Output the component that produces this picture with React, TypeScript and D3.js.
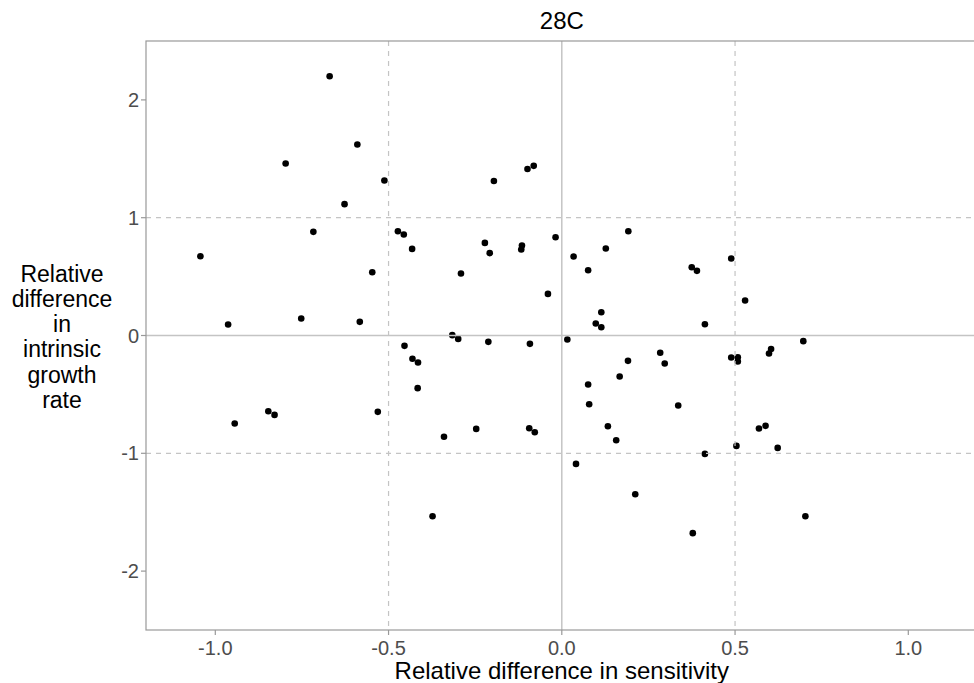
import React from "react";
import * as d3 from "d3";

const title = "28C";
const xLabel = "Relative difference in sensitivity";
const yLabelLines = ["Relative", "difference", "in", "intrinsic", "growth", "rate"];
const xTicks = [-1.0, -0.5, 0.0, 0.5, 1.0];
const yTicks = [-2, -1, 0, 1, 2];
const xDashed = [-0.5, 0.5];
const yDashed = [-1, 1];

const xs = [
  -0.670, -0.590, -0.797, -0.512, -0.627, -0.717, -0.473, -0.456, -0.432, -1.043,
  -0.547, -0.963, -0.752, -0.583, -0.454, -0.081, -0.099, -0.196, -0.222, -0.208,
  -0.115, -0.117, -0.018, -0.291, -0.040, 0.034, 0.076, 0.127, 0.192, 0.375,
  0.390, 0.114, 0.098, 0.114, -0.316, -0.299, -0.212, -0.092, 0.016, 0.489,
  0.529, 0.413, 0.604, 0.697, -0.431, -0.415, -0.416, -0.944, -0.847, -0.829,
  -0.531, 0.284, 0.297, 0.191, 0.167, 0.076, 0.079, 0.336, -0.340, -0.247,
  -0.094, -0.078, 0.133, 0.157, 0.041, 0.212, -0.373, 0.378, 0.489, 0.508,
  0.508, 0.598, 0.588, 0.569, 0.504, 0.623, 0.413, 0.703,
];
const ys = [
  2.201, 1.621, 1.460, 1.316, 1.115, 0.880, 0.885, 0.857, 0.735, 0.673,
  0.537, 0.093, 0.144, 0.116, -0.088, 1.440, 1.414, 1.312, 0.786, 0.699,
  0.764, 0.730, 0.834, 0.526, 0.353, 0.670, 0.554, 0.738, 0.885, 0.580,
  0.549, 0.198, 0.102, 0.070, 0.003, -0.029, -0.054, -0.071, -0.034, 0.654,
  0.297, 0.096, -0.115, -0.048, -0.198, -0.229, -0.447, -0.747, -0.643, -0.674,
  -0.648, -0.147, -0.238, -0.215, -0.348, -0.416, -0.583, -0.594, -0.860, -0.793,
  -0.787, -0.821, -0.770, -0.889, -1.090, -1.347, -1.534, -1.678, -0.187, -0.184,
  -0.221, -0.153, -0.767, -0.790, -0.937, -0.954, -1.005, -1.534,
];

const W = 974;
const H = 683;
const left = 146;
const top = 41;
const bottom = 630;
const right = 977.6;

export default function App() {
  const x = d3.scaleLinear().domain([-1.2, 1.2]).range([left, right]);
  const y = d3.scaleLinear().domain([-2.5, 2.5]).range([bottom, top]);
  const pts = xs.map((v, i) => ({ x: v, y: ys[i] }));
  const font = "'Liberation Sans', Arial, sans-serif";
  const lineGray = "#c4c4c4";
  const yLabelCx = 62;
  const yLabelStart = 281.5;
  const lh = 25.3;
  const cx = (left + right) / 2;
  return (
    <svg
      width={W}
      height={H}
      style={{ position: "absolute", left: 0, top: 0, background: "#fff" }}
      fontFamily={font}
    >
      <rect x={0} y={0} width={W} height={H} fill="#fff" />
      {pts.map((p, i) => (
        <circle key={i} cx={x(p.x)} cy={y(p.y)} r={3.3} fill="#000" />
      ))}
      {xDashed.map((v) => (
        <line key={"xd" + v} x1={x(v)} x2={x(v)} y1={top} y2={bottom}
          stroke={lineGray} strokeWidth={1.2} strokeDasharray="5,5" />
      ))}
      {yDashed.map((v) => (
        <line key={"yd" + v} x1={left} x2={right} y1={y(v)} y2={y(v)}
          stroke={lineGray} strokeWidth={1.2} strokeDasharray="5,5" />
      ))}
      <line x1={x(0)} x2={x(0)} y1={top} y2={bottom} stroke={lineGray} strokeWidth={1.5} />
      <line x1={left} x2={right} y1={y(0)} y2={y(0)} stroke={lineGray} strokeWidth={1.5} />
      <rect x={left} y={top} width={right - left} height={bottom - top}
        fill="none" stroke="#999" strokeWidth={1.2} />
      {xTicks.map((t) => (
        <g key={"xt" + t}>
          <line x1={x(t)} x2={x(t)} y1={bottom} y2={bottom + 5} stroke="#999" strokeWidth={1.2} />
          <text x={x(t)} y={655} textAnchor="middle" fontSize={20} fill="#4d4d4d">
            {d3.format(".1f")(t).replace("−", "-")}
          </text>
        </g>
      ))}
      {yTicks.map((t) => (
        <g key={"yt" + t}>
          <line x1={left - 5} x2={left} y1={y(t)} y2={y(t)} stroke="#999" strokeWidth={1.2} />
          <text x={139} y={y(t) + 7} textAnchor="end" fontSize={20} fill="#4d4d4d">
            {String(t)}
          </text>
        </g>
      ))}
      <text x={cx} y={29} textAnchor="middle" fontSize={24} fill="#000">
        {title}
      </text>
      <text x={cx} y={679} textAnchor="middle" fontSize={24} fill="#000">
        {xLabel}
      </text>
      {yLabelLines.map((l, i) => (
        <text key={l} x={yLabelCx} y={yLabelStart + i * lh} textAnchor="middle" fontSize={23} fill="#000">
          {l}
        </text>
      ))}
    </svg>
  );
}
